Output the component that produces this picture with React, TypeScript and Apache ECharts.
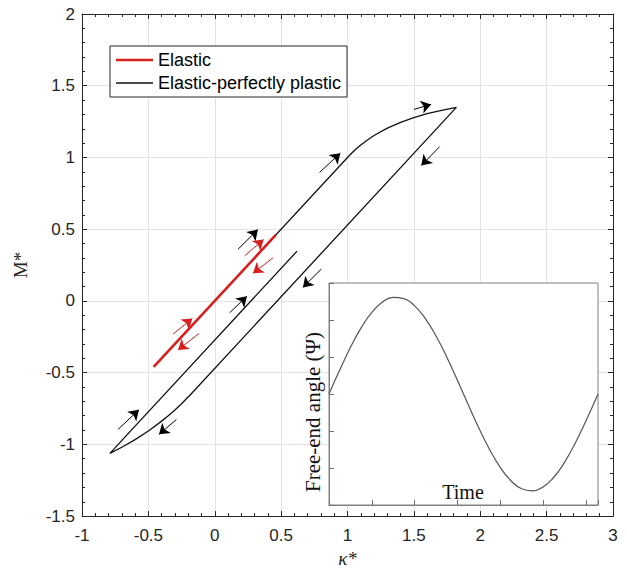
import React, { useEffect, useRef } from "react";
import * as echarts from "echarts";

// Main plot data: curvature kappa* vs moment M*
const elasticCurve: [number, number][] = [
  [-0.46, -0.46],
  [0.46, 0.46],
];

const eppCurve: [number, number][] = [
  [0, 0], [1, 1], [1.025, 1.024], [1.05, 1.047], [1.075, 1.067], [1.1, 1.087],
  [1.15, 1.122], [1.2, 1.153], [1.3, 1.204], [1.4, 1.245], [1.5, 1.278],
  [1.6, 1.305], [1.7, 1.327], [1.82, 1.349],
  [-0.18, -0.651], [-0.21, -0.679], [-0.25, -0.717], [-0.3, -0.76],
  [-0.35, -0.801], [-0.4, -0.838], [-0.5, -0.907], [-0.6, -0.967],
  [-0.7, -1.02], [-0.79, -1.063],
  [0.62, 0.347],
];

// direction arrows: [x1, y1, x2, y2] (tail -> head)
const blackArrows: number[][] = [
  [1.5, 1.335, 1.63, 1.37],
  [0.79, 0.896, 0.946, 1.03],
  [1.694, 1.075, 1.556, 0.944],
  [0.175, 0.36, 0.325, 0.497],
  [0.112, -0.083, 0.242, 0.032],
  [0.803, 0.222, 0.664, 0.094],
  [-0.729, -0.896, -0.571, -0.759],
  [-0.289, -0.827, -0.42, -0.93],
];
const redArrows: number[][] = [
  [0.225, 0.314, 0.368, 0.428],
  [0.438, 0.3, 0.288, 0.193],
  [-0.315, -0.232, -0.169, -0.122],
  [-0.119, -0.227, -0.277, -0.342],
];

// Inset: free-end angle over time
const insetTime: number[] = [
  0, 0.25, 0.5, 0.75, 1, 1.25, 1.5, 1.75, 2, 2.25, 2.5, 2.75, 3, 3.25, 3.5,
  3.75, 4, 4.25, 4.5, 4.75, 5, 5.25, 5.5, 5.75, 6, 6.2832,
];
const insetAngle: number[] = [
  0, 0.324, 0.628, 0.893, 1.102, 1.243, 1.307, 1.289, 1.191, 1.019, 0.784,
  0.5, 0.185, -0.142, -0.46, -0.749, -0.991, -1.172, -1.281, -1.309, -1.256,
  -1.125, -0.924, -0.666, -0.366, 0,
];

const legendNames = ["Elastic", "Elastic-perfectly plastic"];

const SANS = "'Liberation Sans', Arial, Helvetica, sans-serif";
const SERIF = "'Liberation Serif', 'Times New Roman', serif";
const AXIS = "#262626";
const GRIDC = "#e3e3e3";
const RED = "#d81e1e";
const INSET = "#808080";

export default function App() {
  const ref = useRef<HTMLDivElement>(null);
  useEffect(() => {
    if (!ref.current) return;
    const chart = echarts.init(ref.current, undefined, { renderer: "svg" });

    const mainTick = { show: true, inside: true, length: 5, lineStyle: { color: AXIS, width: 1 } };
    const mainMinor = { show: true, splitNumber: 5, length: 3, lineStyle: { color: AXIS, width: 1 } };
    const mainLine = { show: true, onZero: false, lineStyle: { color: AXIS, width: 1 } };
    const mainLabel = { show: true, fontSize: 17, color: AXIS, fontFamily: SANS };
    const insetTick = { show: true, inside: true, length: 5, lineStyle: { color: "#6e6e6e", width: 1 } };

    const toLines = (arr: number[][]) =>
      arr.map((a) => ({ coords: [[a[0], a[1]], [a[2], a[3]]] }));

    chart.setOption({
      animation: false,
      backgroundColor: "#ffffff",
      grid: [
        { left: 82, top: 14, width: 531, height: 505, show: false },
        {
          left: 329, top: 283, width: 269, height: 222, show: true, z: 3,
          backgroundColor: "#ffffff", borderColor: INSET, borderWidth: 1,
        },
      ],
      legend: {
        data: [
          { name: legendNames[0], icon: "path://M0,0H37V2.6H0Z" },
          { name: legendNames[1], icon: "path://M0,0H37V1.3H0Z" },
        ],
        orient: "vertical",
        left: 110,
        top: 46,
        itemWidth: 37,
        itemHeight: 14,
        itemGap: 5,
        padding: [5, 6, 5, 6],
        borderColor: AXIS,
        borderWidth: 1,
        borderRadius: 0,
        backgroundColor: "#ffffff",
        textStyle: { fontSize: 18, color: "#000", fontFamily: SANS },
      },
      xAxis: [
        {
          type: "value", gridIndex: 0, min: -1, max: 3, interval: 0.5,
          position: "bottom",
          axisLine: mainLine, axisTick: mainTick, minorTick: mainMinor,
          axisLabel: { ...mainLabel, margin: 11 },
          splitLine: { show: true, lineStyle: { color: GRIDC, width: 1 } },
          name: "κ*", nameLocation: "middle", nameGap: 30,
          nameTextStyle: { fontSize: 19, fontStyle: "italic", fontFamily: SERIF, color: AXIS },
        },
        {
          type: "value", gridIndex: 0, min: -1, max: 3, interval: 0.5,
          position: "top",
          axisLine: mainLine, axisTick: mainTick, minorTick: mainMinor,
          axisLabel: { show: false }, splitLine: { show: false },
        },
        {
          type: "value", gridIndex: 1, min: 0, max: 6.2832, interval: 1, z: 6,
          position: "bottom",
          axisLine: { show: true, onZero: false, lineStyle: { color: INSET, width: 1 } },
          axisTick: insetTick,
          axisLabel: { show: false }, splitLine: { show: false },
        },
      ],
      yAxis: [
        {
          type: "value", gridIndex: 0, min: -1.5, max: 2, interval: 0.5,
          position: "left",
          axisLine: mainLine, axisTick: mainTick, minorTick: mainMinor,
          axisLabel: { ...mainLabel, margin: 7 },
          splitLine: { show: true, lineStyle: { color: GRIDC, width: 1 } },
          name: "M*", nameLocation: "middle", nameGap: 52, nameRotate: 90,
          nameTextStyle: { fontSize: 19, fontFamily: SERIF, color: AXIS },
        },
        {
          type: "value", gridIndex: 0, min: -1.5, max: 2, interval: 0.5,
          position: "right",
          axisLine: mainLine, axisTick: mainTick, minorTick: mainMinor,
          axisLabel: { show: false }, splitLine: { show: false },
        },
        {
          type: "value", gridIndex: 1, min: -1.5, max: 1.5, interval: 0.5, z: 6,
          position: "left",
          axisLine: { show: true, onZero: false, lineStyle: { color: INSET, width: 1 } },
          axisTick: insetTick,
          axisLabel: { show: false }, splitLine: { show: false },
        },
      ],
      graphic: [
        {
          type: "text", x: 313, y: 412, rotation: Math.PI / 2, z: 10,
          style: {
            text: "Free-end angle (Ψ)", font: `21px ${SERIF}`, fill: "#111",
            align: "center", verticalAlign: "middle",
          },
        },
        {
          type: "text", x: 463, y: 492, z: 10,
          style: {
            text: "Time", font: `20px ${SERIF}`, fill: "#111",
            align: "center", verticalAlign: "middle",
          },
        },
      ],
      series: [
        {
          name: "Elastic-perfectly plastic", type: "line", xAxisIndex: 0, yAxisIndex: 0,
          data: eppCurve, symbol: "none", z: 2,
          lineStyle: { color: "#111", width: 1.3 }, itemStyle: { color: "#111" },
        },
        {
          name: "Elastic", type: "line", xAxisIndex: 0, yAxisIndex: 0,
          data: elasticCurve, symbol: "none", z: 3,
          lineStyle: { color: RED, width: 2.6 }, itemStyle: { color: RED },
        },
        {
          type: "lines", coordinateSystem: "cartesian2d", xAxisIndex: 0, yAxisIndex: 0,
          data: toLines(blackArrows), symbol: ["none", "arrow"], symbolSize: [0, 10], z: 4,
          lineStyle: { color: "#000", width: 1, opacity: 1 }, silent: true,
        },
        {
          type: "lines", coordinateSystem: "cartesian2d", xAxisIndex: 0, yAxisIndex: 0,
          data: toLines(redArrows), symbol: ["none", "arrow"], symbolSize: [0, 10], z: 4,
          lineStyle: { color: RED, width: 1, opacity: 1 }, silent: true,
        },
        {
          type: "line", xAxisIndex: 2, yAxisIndex: 2, z: 7,
          data: insetTime.map((t, i) => [t, insetAngle[i]]),
          symbol: "none", smooth: true,
          lineStyle: { color: "#555", width: 1.2 },
        },
      ],
    });
    return () => chart.dispose();
  }, []);

  return (
    <div
      ref={ref}
      style={{ position: "absolute", left: 0, top: 0, width: 627, height: 573 }}
    />
  );
}
